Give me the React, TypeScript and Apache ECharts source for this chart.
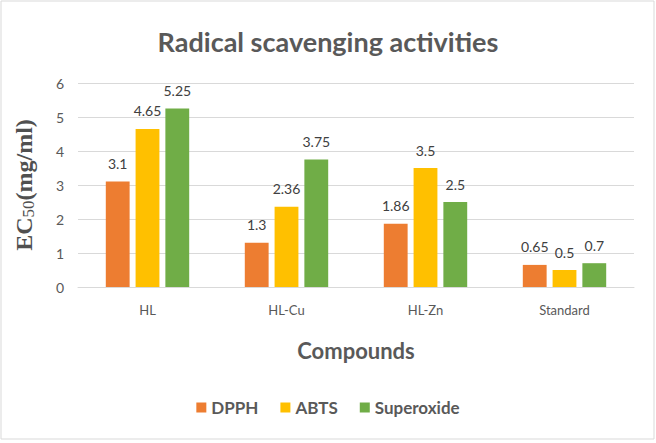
import React, { useEffect, useRef } from "react";
import * as echarts from "echarts";

const categories = ["HL", "HL-Cu", "HL-Zn", "Standard"];
const dpph = [3.1, 1.3, 1.86, 0.65];
const abts = [4.65, 2.36, 3.5, 0.5];
const superoxide = [5.25, 3.75, 2.5, 0.7];
const seriesNames = ["DPPH", "ABTS", "Superoxide"];
const colors = ["#ED7D31", "#FFC000", "#70AD47"];

export default function App() {
  const ref = useRef<HTMLDivElement>(null);
  useEffect(() => {
    document.body.style.margin = "0";
    const chart = echarts.init(ref.current!, null, { renderer: "svg" });
    const label = {
      show: true,
      position: "top",
      distance: 11,
      color: "#404040",
      fontSize: 14,
      fontFamily: "Lato",
    };
    const data = [dpph, abts, superoxide];
    chart.setOption({
      animation: false,
      backgroundColor: "#ffffff",
      title: {
        text: "Radical scavenging activities",
        left: "center",
        top: 23,
        textStyle: { color: "#595959", fontSize: 27, fontWeight: "bold", fontFamily: "Lato" },
      },
      legend: {
        bottom: 22,
        left: "center",
        itemWidth: 10,
        itemHeight: 10,
        itemGap: 22,
        icon: "rect",
        textStyle: { color: "#595959", fontSize: 17, fontWeight: "bold", fontFamily: "Lato" },
        data: seriesNames,
      },
      grid: { left: 78, right: 22, top: 83, bottom: 156 },
      xAxis: {
        type: "category",
        data: categories,
        axisTick: { show: false },
        axisLine: { lineStyle: { color: "#d9d9d9" } },
        axisLabel: { color: "#595959", fontSize: 13, margin: 16, fontFamily: "Lato" },
        name: "Compounds",
        nameLocation: "middle",
        nameGap: 52,
        nameTextStyle: { color: "#595959", fontSize: 22, fontWeight: "bold", fontFamily: "Lato" },
      },
      yAxis: {
        type: "value",
        min: 0,
        max: 6,
        interval: 1,
        axisLabel: { color: "#595959", fontSize: 14, margin: 14, fontFamily: "Lato" },
        splitLine: { lineStyle: { color: "#d9d9d9" } },
        name: "{main|EC}{sub|50}{main|(mg/ml)}",
        nameLocation: "middle",
        nameGap: 41,
        nameTextStyle: {
          rich: {
            main: { fontFamily: "Liberation Serif", fontWeight: "bold", fontSize: 24, color: "#505050" },
            sub: { fontFamily: "Liberation Serif", fontSize: 17, color: "#505050", padding: [9, 0, 0, 0] },
          },
        },
      },
      graphic: [
        {
          type: "rect",
          shape: { x: 1, y: 1, width: 653, height: 438 },
          style: { fill: "none", stroke: "#d9d9d9", lineWidth: 1 },
          silent: true,
        },
      ],
      series: seriesNames.map((n, i) => ({
        name: n,
        type: "bar",
        data: data[i],
        barGap: "25%",
        barCategoryGap: "40%",
        itemStyle: { color: colors[i] },
        label,
      })),
    });
    return () => chart.dispose();
  }, []);
  return <div ref={ref} style={{ width: 656, height: 443 }} />;
}
